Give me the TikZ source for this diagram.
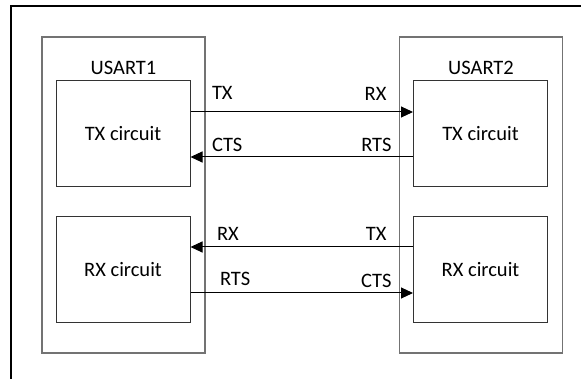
\documentclass[tikz,border=0pt]{standalone}
\usepackage{fontspec}
\setmainfont{Carlito}
\usetikzlibrary{arrows.meta}
\tikzset{
  usart/.style={draw=black!55, line width=1.3pt, minimum width=163pt, minimum height=316pt, inner sep=0pt},
  circuit/.style={draw=black!80, line width=1pt, minimum width=134pt, minimum height=106pt, inner sep=0pt},
  wire/.style={line width=1pt, -{Triangle[length=12pt,width=11pt]}},
  lbl/.style={inner sep=0pt}
}
\begin{document}
\begin{tikzpicture}[x=1pt, y=-1pt, font=\fontsize{20.5}{24}\selectfont]
	\useasboundingbox (0,0) rectangle (581,379);
	% frame, cut off at the right and at the bottom
	\draw [line width=1.2pt] (581,6) -- (11,6) -- (11,379);
	% the two usarts
	\node [usart] (usart1) at (123.5,195) {};
	\node [usart] (usart2) at (481,195) {};
	\node [lbl, anchor=base] (name1) at ([yshift=-38pt]usart1.north) {USART1};
	\node [lbl, anchor=base] (name2) at ([yshift=-38pt]usart2.north) {USART2};
	\node [circuit] (tx1) at (123,134) {TX circuit};
	\node [circuit] (rx1) at (123,269.5) {RX circuit};
	\node [circuit] (tx2) at (480.5,134) {TX circuit};
	\node [circuit] (rx2) at (480.5,269.5) {RX circuit};
	% signals
	\draw [wire] ([yshift=22pt]tx1.east) -- ([yshift=22pt]tx2.west)
		node [lbl, pos=0, anchor=base west, xshift=21pt, yshift=12pt] (txa) {TX}
		node [lbl, pos=1, anchor=base east, xshift=-26pt, yshift=11pt] (rxa) {RX};
	\draw [wire] ([yshift=-23pt]tx2.west) -- ([yshift=-23pt]tx1.east)
		node [lbl, pos=0, anchor=base east, xshift=-21pt, yshift=5pt] (rtsa) {RTS}
		node [lbl, pos=1, anchor=base west, xshift=21pt, yshift=5pt] (ctsa) {CTS};
	\draw [wire] ([yshift=22.5pt]rx2.west) -- ([yshift=22.5pt]rx1.east)
		node [lbl, pos=0, anchor=base east, xshift=-26pt, yshift=6pt] (txb) {TX}
		node [lbl, pos=1, anchor=base west, xshift=26pt, yshift=6pt] (rxb) {RX};
	\draw [wire] ([yshift=-23.5pt]rx1.east) -- ([yshift=-23.5pt]rx2.west)
		node [lbl, pos=0, anchor=base west, xshift=29pt, yshift=7pt] (rtsb) {RTS}
		node [lbl, pos=1, anchor=base east, xshift=-21pt, yshift=5pt] (ctsb) {CTS};
\end{tikzpicture}
\end{document}
